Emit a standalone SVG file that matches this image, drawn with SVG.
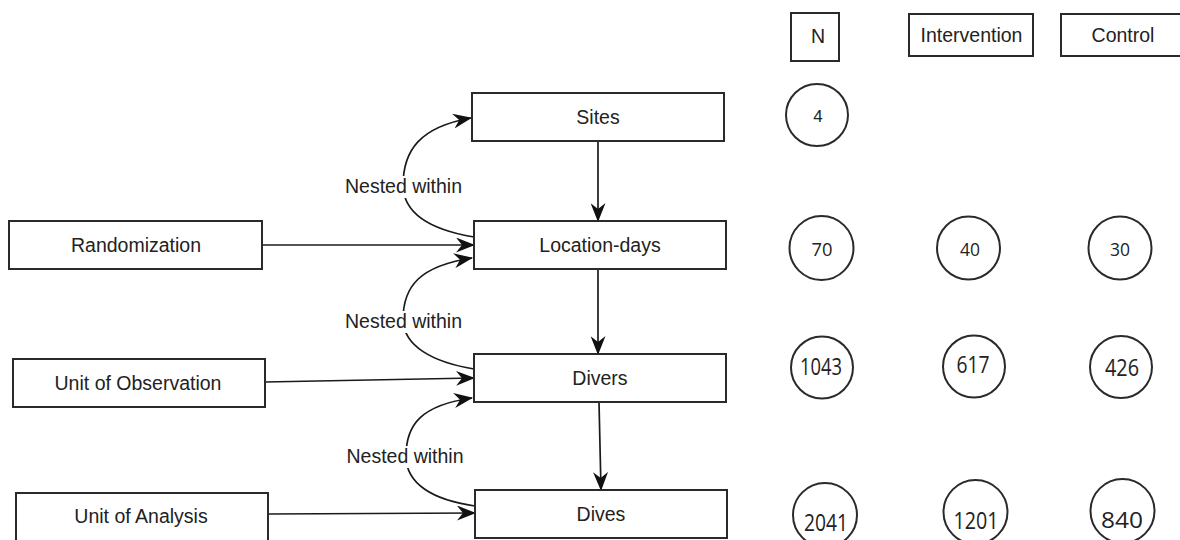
<svg xmlns="http://www.w3.org/2000/svg" width="1180" height="540" viewBox="0 0 1180 540">
<style>
.box{fill:#fff;stroke:#2a2a2a;stroke-width:2}
.circ{fill:#fff;stroke:#2a2a2a;stroke-width:2}
.lbl{font-family:"Liberation Sans",Arial,sans-serif;font-size:19.5px;fill:#222;text-anchor:middle}
.num{font-family:"Open Sans","Noto Sans",sans-serif;fill:#222;text-anchor:middle}
.edge{fill:none;stroke:#1a1a1a;stroke-width:1.7;marker-end:url(#arr)}
.bg{fill:#fff}
</style>
<defs>
<marker id="arr" viewBox="0 0 19 15" refX="18" refY="7.5" markerWidth="19" markerHeight="15" markerUnits="userSpaceOnUse" orient="auto">
<path d="M0,0 L19,7.5 L0,15 L6,7.5 Z" fill="#111"/>
</marker>
</defs>
<rect width="1180" height="540" fill="#fff"/>

<g id="connectors">
<path class="edge" d="M598,141 L598,221"/>
<path class="edge" d="M598,269 L598,354"/>
<path class="edge" d="M599,402 L601,490"/>
<path class="edge" d="M262,245 L474,245"/>
<path class="edge" d="M265,382 L474,378"/>
<path class="edge" d="M268,514 L475,513"/>
<path class="edge" d="M474,237 C432,230 404,214 403,186 C403,150 420,127 471,118"/>
<path class="edge" d="M474,369 C432,362 404,346 403,320 C403,286 420,266 472,258"/>
<path class="edge" d="M475,506 C433,500 406,484 406,456 C406,424 422,405 472,398"/>
<rect class="bg" x="344" y="176" width="120" height="22"/>
<text class="lbl" x="403.5" y="193">Nested within</text>
<rect class="bg" x="344" y="311" width="120" height="22"/>
<text class="lbl" x="403.5" y="328">Nested within</text>
<rect class="bg" x="346" y="446" width="120" height="22"/>
<text class="lbl" x="405" y="463">Nested within</text>
</g>

<g id="sites"><rect class="box" x="472" y="93" width="252" height="48"/><text class="lbl" x="598" y="124">Sites</text></g>
<g id="location-days"><rect class="box" x="474" y="221" width="252" height="48"/><text class="lbl" x="600" y="252">Location-days</text></g>
<g id="divers"><rect class="box" x="474" y="354" width="252" height="48"/><text class="lbl" x="600" y="385">Divers</text></g>
<g id="dives"><rect class="box" x="475" y="490" width="252" height="48"/><text class="lbl" x="601" y="521">Dives</text></g>

<g id="randomization"><rect class="box" x="9" y="221" width="253" height="48"/><text class="lbl" x="136" y="252">Randomization</text></g>
<g id="unit-observation"><rect class="box" x="13" y="359" width="252" height="48"/><text class="lbl" x="138" y="390">Unit of Observation</text></g>
<g id="unit-analysis"><rect class="box" x="16" y="493" width="252" height="50"/><text class="lbl" x="141" y="523">Unit of Analysis</text></g>

<g id="hdr-n"><rect class="box" x="791" y="13" width="48" height="48"/><text class="lbl" x="818" y="43">N</text></g>
<g id="hdr-intervention"><rect class="box" x="909" y="14" width="124" height="42"/><text class="lbl" x="971.5" y="42">Intervention</text></g>
<g id="hdr-control"><rect class="box" x="1061" y="14" width="124" height="42"/><text class="lbl" x="1123" y="42">Control</text></g>

<g id="n-sites"><circle class="circ" cx="817" cy="115" r="31"/><text class="lbl" x="818" y="121.5" style="font-size:17px">4</text></g>

<g id="n-locdays"><circle class="circ" cx="821.5" cy="248" r="32"/><text class="num" x="822" y="255.5" font-size="18.5" textLength="21" lengthAdjust="spacingAndGlyphs">70</text></g>
<g id="i-locdays"><circle class="circ" cx="968.5" cy="248" r="31.5"/><text class="num" x="970" y="255.5" font-size="18.5" textLength="20" lengthAdjust="spacingAndGlyphs">40</text></g>
<g id="c-locdays"><circle class="circ" cx="1120" cy="248" r="31.5"/><text class="num" x="1120" y="255.5" font-size="18.5" textLength="20" lengthAdjust="spacingAndGlyphs">30</text></g>

<g id="n-divers"><circle class="circ" cx="822" cy="367.5" r="31"/><text class="num" x="821" y="375" font-size="23" textLength="42" lengthAdjust="spacingAndGlyphs">1043</text></g>
<g id="i-divers"><circle class="circ" cx="974" cy="366.5" r="31"/><text class="num" x="973" y="373" font-size="23" textLength="33" lengthAdjust="spacingAndGlyphs">617</text></g>
<g id="c-divers"><circle class="circ" cx="1121" cy="367" r="31"/><text class="num" x="1122" y="375.5" font-size="23" textLength="34" lengthAdjust="spacingAndGlyphs">426</text></g>

<g id="n-dives"><circle class="circ" cx="825" cy="515" r="32"/><text class="num" x="826" y="531" font-size="23" textLength="44" lengthAdjust="spacingAndGlyphs">2041</text></g>
<g id="i-dives"><circle class="circ" cx="975.5" cy="512" r="32"/><text class="num" x="976" y="529" font-size="23" textLength="45" lengthAdjust="spacingAndGlyphs">1201</text></g>
<g id="c-dives"><circle class="circ" cx="1122.5" cy="511" r="32"/><text class="num" x="1122" y="528" font-size="21.5" textLength="42" lengthAdjust="spacingAndGlyphs">840</text></g>
</svg>
